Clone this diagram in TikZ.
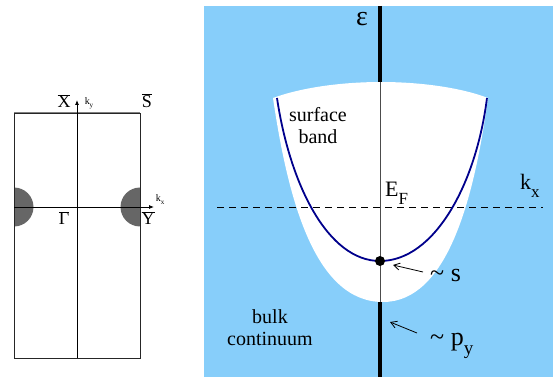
\documentclass[tikz,border=0pt]{standalone}
\usepackage{fontspec}
\setmainfont{Liberation Serif}
\usetikzlibrary{arrows.meta}
\definecolor{bg}{HTML}{87CEFA}
\definecolor{band}{HTML}{00008C}
\definecolor{pocket}{HTML}{666666}
\newcommand{\ovl}[1]{$\overline{\hbox{#1}}$}
\newcommand{\subt}[3]{#1\raisebox{-0.35em}{\fontsize{#3}{#3}\selectfont #2}}
\tikzset{
  lbl/.style={inner sep=0pt, font=\fontsize{20}{22}\selectfont},
  biglbl/.style={inner sep=0pt, font=\fontsize{22}{24}\selectfont},
  arrlbl/.style={inner sep=0pt, font=\fontsize{26}{28}\selectfont},
  bzlbl/.style={inner sep=0pt, font=\fontsize{18}{19}\selectfont},
  klbl/.style={inner sep=0pt, font=\fontsize{10}{11}\selectfont},
  thickax/.style={line width=4.5pt},
  thinax/.style={line width=0.9pt, black!70},
  ptr/.style={-{Straight Barb[length=6pt,width=7pt]}, line width=0.8pt},
  bz/.style={line width=0.8pt, black!85},
  axis/.style={line width=0.8pt, -{Latex[length=5pt,width=4pt]}},
}
\begin{document}
\begin{tikzpicture}[x=1pt,y=-1pt]
\useasboundingbox (0,0) rectangle (555,377);
% ---------- left panel: surface Brillouin zone ----------
\fill[pocket] (14,226.5) arc[start angle=90,end angle=-90,radius=19.5] -- cycle;
\fill[pocket] (140,226.5) arc[start angle=90,end angle=270,radius=19.5] -- cycle;
\draw[bz] (14,113) rectangle (140,358);
\draw[line width=1pt, black!50] (14,113) -- (140,113);
\coordinate (vb) at (77,358);
\coordinate (vt) at (77,100);
\coordinate (hl) at (14,207);
\coordinate (hr) at (154,207);
\draw[axis] (vb) -- (vt);
\draw[axis] (hl) -- (hr);
\node[bzlbl] (X) at (64,101) {\ovl{X}};
\node[bzlbl] (S) at (147,101) {\ovl{S}};
\node[bzlbl] (G) at (64,218) {\ovl{Γ}};
\node[bzlbl] (Y) at (148,218) {\ovl{Y}};
\node[klbl] (ky) at (89,103) {k\raisebox{-0.3em}{\fontsize{7}{7}\selectfont y}};
\node[klbl] (kx) at (160,200) {k\raisebox{-0.3em}{\fontsize{7}{7}\selectfont x}};
% ---------- right panel ----------
\fill[bg] (204,6) rectangle (553,377);
\fill[white] (273,98) .. controls (300,88) and (340,82) .. (381,82)
  .. controls (422,82) and (462,88) .. (488,98)
  .. controls (474,200) and (447,302) .. (383,302)
  .. controls (315,302) and (288,200) .. (273,98) -- cycle;
\coordinate (top) at (380,6);
\coordinate (wt) at (380,82);
\coordinate (wb) at (380,302);
\coordinate (bot) at (380,377);
\draw[thickax] (top) -- (wt);
\draw[thinax] (wt) -- (wb);
\draw[thickax] (wb) -- (bot);
\coordinate (dl) at (217,207);
\coordinate (dr) at (543,207);
\draw[dashed, dash pattern=on 7pt off 5pt, line width=0.8pt] (dl) -- (dr);
\coordinate (bl) at (277,98);
\coordinate (bm) at (380,261);
\coordinate (br) at (487,98);
\draw[band, line width=1.8pt] (bl) .. controls (290,185) and (328,261) .. (bm)
  .. controls (434,261) and (476,185) .. (br);
\fill (bm) circle[radius=5];
\node[inner sep=0pt, font=\fontsize{28}{28}\selectfont] (eps) at (362,19) {ε};
\node[biglbl, anchor=base west] (EF) at (385,197) {\subt{E}{F}{17}};
\node[biglbl, anchor=base west] (kx2) at (520,190) {\subt{k}{x}{17}};
\node[lbl, align=center] (sb) at (318,126) {surface\\band};
\node[lbl, align=center] (bc) at (270,328) {bulk\\continuum};
\node[arrlbl, anchor=base west] (s) at (430,282) {\textasciitilde\ s};
\node[arrlbl, anchor=base west] (py) at (430,345) {\textasciitilde\ \subt{p}{y}{19}};
\coordinate (s0) at (423,272);
\coordinate (sa) at (393,265);
\coordinate (p0) at (417,333);
\coordinate (pa) at (390,322);
\draw[ptr] (s0) -- (sa);
\draw[ptr] (p0) -- (pa);
\end{tikzpicture}
\end{document}
